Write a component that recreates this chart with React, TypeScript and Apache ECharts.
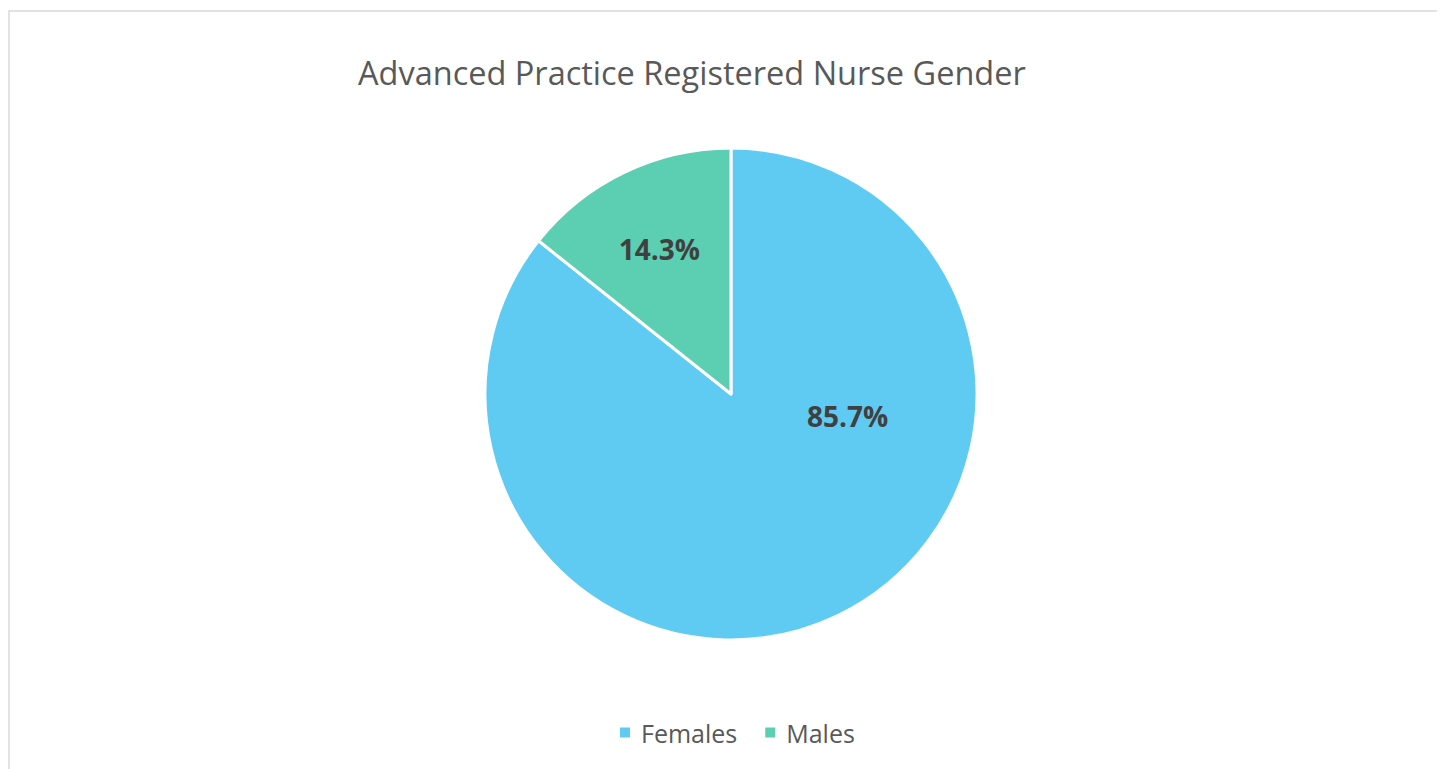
import React, { useEffect, useRef } from "react";
import * as echarts from "echarts";

const titleText = "Advanced Practice Registered Nurse Gender";
const categories = ["Females", "Males"];
const values = [85.7, 14.3];
const colors = ["#5fcbf2", "#5ccfb2"];
const labelOffsets = [[62, -91], [-17, -32]];

export default function App() {
  const ref = useRef<HTMLDivElement>(null);
  useEffect(() => {
    if (!ref.current) return;
    const chart = echarts.init(ref.current, undefined, { renderer: "svg" });
    const font = "'Open Sans', 'Noto Sans', sans-serif";
    chart.setOption({
      animation: false,
      backgroundColor: "#ffffff",
      title: {
        text: titleText,
        left: 345,
        top: 43,
        textStyle: { fontFamily: font, fontSize: 32.5, fontWeight: "normal", color: "#595959" },
      },
      legend: {
        data: categories,
        left: 605,
        top: 707,
        icon: "rect",
        itemWidth: 12,
        itemHeight: 12,
        itemGap: 26,
        textStyle: { fontFamily: font, fontSize: 25, color: "#595959", padding: [0, 0, 0, 5] },
      },
      graphic: [
        {
          type: "rect",
          shape: { x: 1, y: 3, width: 1600, height: 1000 },
          style: { fill: "none", stroke: "#d9d9d9", lineWidth: 1.5 },
          silent: true,
        },
      ],
      series: [
        {
          type: "pie",
          center: [723, 386],
          radius: [0, 246],
          startAngle: 90,
          clockwise: true,
          itemStyle: { borderColor: "#ffffff", borderWidth: 3 },
          label: {
            show: true,
            position: "inside",
            formatter: (p: any) => p.value.toFixed(1) + "%",
            fontFamily: font,
            fontSize: 28,
            fontWeight: "bold",
            color: "#404040",
          },
          labelLine: { show: false },
          data: categories.map((c, i) => ({
            name: c,
            value: values[i],
            itemStyle: { color: colors[i] },
            label: { offset: labelOffsets[i] },
          })),
        },
      ],
    });
    return () => chart.dispose();
  }, []);
  return <div ref={ref} style={{ width: 1437, height: 761 }} />;
}
